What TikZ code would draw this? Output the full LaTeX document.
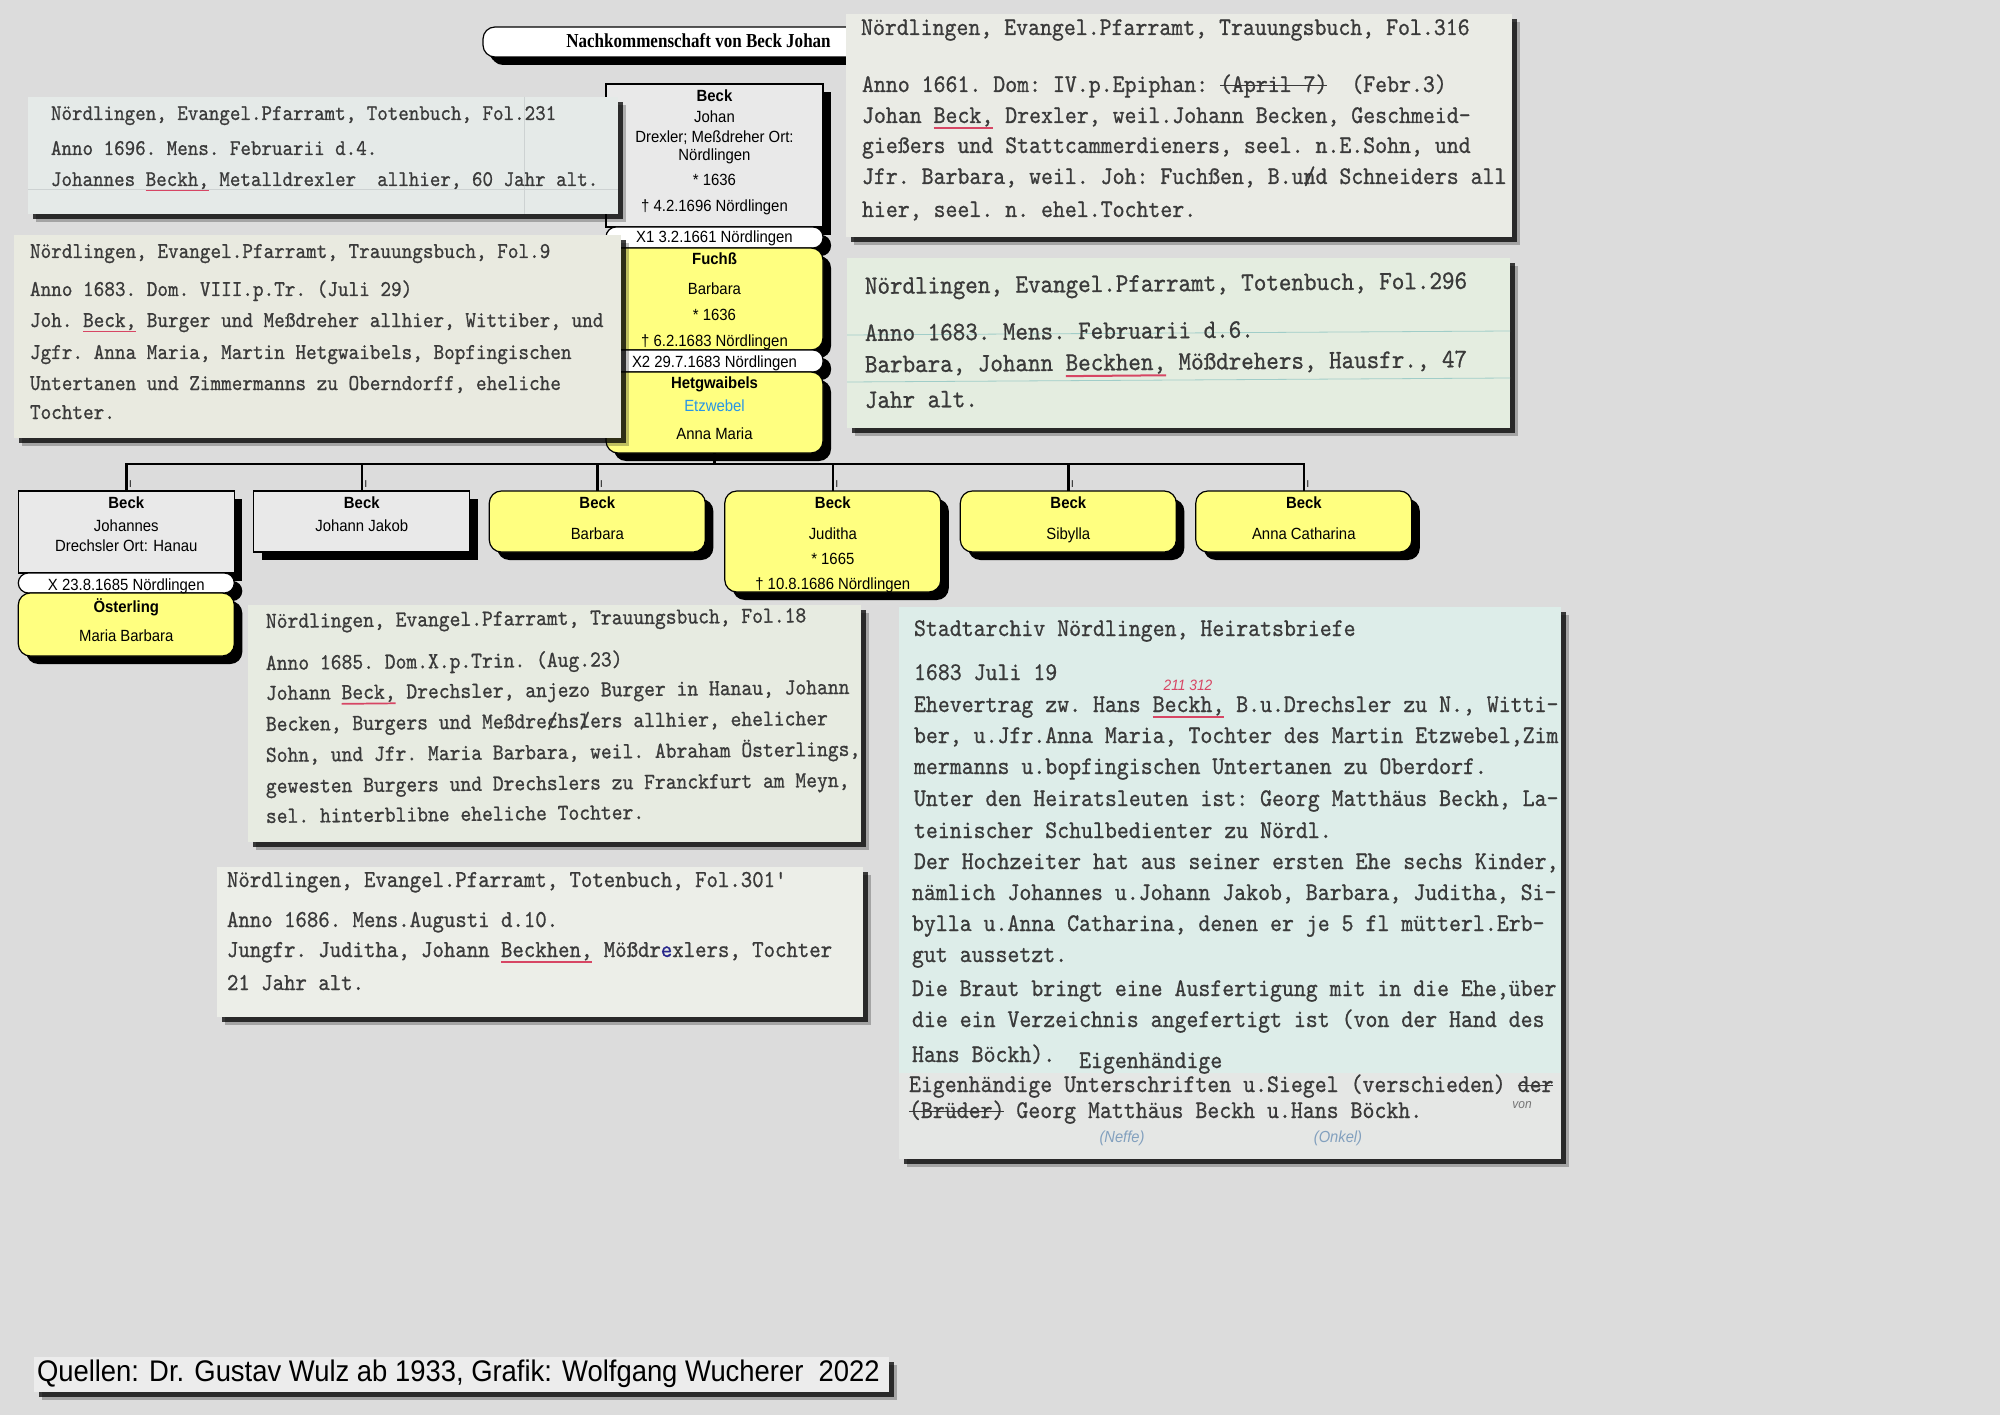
\documentclass[tikz,border=0pt]{standalone}
\usepackage{fontspec}
\usepackage{graphicx}
\usetikzlibrary{shadows}
\newfontfamily\treefont[FakeStretch=0.92]{Liberation Sans}
\newfontfamily\titlefont[FakeStretch=0.86]{Liberation Serif}
\newfontfamily\twfont{lmmono10-regular.otf}[FakeBold=0.8]
\definecolor{bg}{RGB}{220,220,220}
\definecolor{graybox}{RGB}{233,233,233}
\definecolor{yel}{RGB}{255,255,128}
\definecolor{etzblue}{RGB}{40,150,230}
\definecolor{ink}{RGB}{58,58,58}
\definecolor{inkblue}{RGB}{40,40,140}
\definecolor{ulred}{RGB}{215,70,100}
\definecolor{hwblue}{RGB}{130,160,190}
\definecolor{cA}{RGB}{229,234,232}
\definecolor{cB}{RGB}{233,234,224}
\definecolor{cC}{RGB}{234,235,229}
\definecolor{cD}{RGB}{228,237,224}
\definecolor{cE}{RGB}{231,235,225}
\definecolor{cF}{RGB}{236,238,232}
\definecolor{cG}{RGB}{221,237,233}
\definecolor{cGs}{RGB}{229,231,229}
\definecolor{footbg}{RGB}{236,236,236}
\definecolor{faint}{RGB}{205,210,210}
\definecolor{teal2}{RGB}{160,205,200}
\newcommand\tw[1]{\scalebox{0.895}[1]{#1}}
\newcommand\rul[1]{\setbox0\hbox{#1}\rlap{\textcolor{ulred}{\rule[-0.24em]{\wd0}{0.075em}}}\box0\relax}
\newcommand\stk[1]{\setbox0\hbox{#1}\rlap{\rule[0.22em]{\wd0}{0.05em}}\box0\relax}
\newcommand\ovsl[1]{\rlap{/}#1}
\tikzset{
 tbox/.style={draw=black, line width=1.2pt, anchor=north west,
   drop shadow={shadow xshift=8pt, shadow yshift=-8pt, fill=black, opacity=1}},
 gbox/.style={tbox, fill=graybox},
 ybox/.style={tbox, fill=yel, rounded corners=12pt},
 pillbox/.style={tbox, fill=white, rounded corners=10pt},
 conn/.style={draw=black, line width=2.6pt},
 tt/.style={anchor=base, font=\treefont\fontsize{16.2}{18}\selectfont},
 ttb/.style={anchor=base, font=\treefont\bfseries\fontsize{16.2}{18}\selectfont},
 tick/.style={anchor=base, font=\treefont\fontsize{10}{10}\selectfont},
 card/.style={anchor=north west,
   drop shadow={shadow xshift=8pt, shadow yshift=-8pt, fill=black, opacity=0.25},
   drop shadow={shadow xshift=5pt, shadow yshift=-5pt, fill=black, opacity=0.75}},
 tl/.style={anchor=base west, text=ink, font=\twfont\frenchspacing\fontsize{#1}{#1}\selectfont},
 hw/.style={anchor=base, font=\treefont\itshape\fontsize{#1}{#1}\selectfont},
}
\begin{document}
\begin{tikzpicture}[x=1pt,y=-1pt, every node/.style={inner sep=0pt, outer sep=0pt}]
\path[use as bounding box, fill=bg] (0,0) rectangle (2000,1415);

% ---------- title ----------
\node[tbox, fill=white, rounded corners=12pt, minimum width=400pt, minimum height=30pt,
  drop shadow={shadow xshift=6pt, shadow yshift=-6pt, fill=black, opacity=1}] (titlebox) at (483,27) {};
\node[anchor=base, font=\titlefont\bfseries\fontsize{19.8}{20}\selectfont] (title) at (698.5,48) {Nachkommenschaft von Beck Johan};

% ---------- tree connectors ----------
\coordinate (bus) at (0,464);

% ---------- root column ----------
\node[gbox, minimum width=217pt, minimum height=143pt] (root) at (606,84) {};
\node[pillbox, minimum width=217pt, minimum height=21pt] (x1) at (606,227) {};
\node[ybox, minimum width=217pt, minimum height=102pt] (fuchs) at (606,248) {};
\node[pillbox, minimum width=217pt, minimum height=22pt] (x2) at (606,350) {};
\node[ybox, minimum width=217pt, minimum height=81pt] (hetg) at (606,372) {};

% ---------- children ----------
\node[gbox, minimum width=216pt, minimum height=82pt] (c1) at (18.3,491) {};
\node[pillbox, minimum width=216pt, minimum height=20pt] (c1x) at (18.3,573) {};
\node[ybox, minimum width=216pt, minimum height=63pt] (c1w) at (18.3,593) {};
\node[gbox, minimum width=216pt, minimum height=61pt] (c2) at (253.8,491) {};
\node[ybox, minimum width=216pt, minimum height=61pt] (c3) at (489.3,491) {};
\node[ybox, minimum width=216pt, minimum height=101pt] (c4) at (724.8,491) {};
\node[ybox, minimum width=216pt, minimum height=61pt] (c5) at (960.3,491) {};
\node[ybox, minimum width=216pt, minimum height=61pt] (c6) at (1195.8,491) {};

\draw[conn] (hetg.south) -- (hetg.south |- bus);
\draw[conn] (c1.north) -- (c1.north |- bus) -- (c6.north |- bus) -- (c6.north);
\draw[conn] (c2.north) -- (c2.north |- bus);
\draw[conn] (c3.north) -- (c3.north |- bus);
\draw[conn] (c4.north) -- (c4.north |- bus);
\draw[conn] (c5.north) -- (c5.north |- bus);

\node[tick] (k1) at (130.3,487) {I};
\node[tick] (k2) at (365.8,487) {I};
\node[tick] (k3) at (601.3,487) {I};
\node[tick] (k4) at (836.8,487) {I};
\node[tick] (k5) at (1072.3,487) {I};
\node[tick] (k6) at (1307.8,487) {I};

% root texts
\node[ttb] (rB) at (714.5,102) {Beck};
\node[tt] (rJ) at (714.5,123) {Johan};
\node[tt] (rO) at (714.5,143) {Drexler; Meßdreher Ort:};
\node[tt] (rN) at (714.5,161) {Nördlingen};
\node[tt] (rG) at (714.5,186) {* 1636};
\node[tt] (rD) at (714.5,212) {† 4.2.1696 Nördlingen};
\node[tt] (x1t) at (714.5,243) {X1 3.2.1661 Nördlingen};
\node[ttb] (fB) at (714.5,265) {Fuchß};
\node[tt] (fV) at (714.5,295) {Barbara};
\node[tt] (fG) at (714.5,321) {* 1636};
\node[tt] (fD) at (714.5,346) {† 6.2.1683 Nördlingen};
\node[tt] (x2t) at (714.5,367) {X2 29.7.1683 Nördlingen};
\node[ttb] (hB) at (714.5,388) {Hetgwaibels};
\node[tt, text=etzblue] (hE) at (714.5,411) {Etzwebel};
\node[tt] (hV) at (714.5,439) {Anna Maria};

% children texts
\node[ttb] (c1B) at (126.3,508) {Beck};
\node[tt] (c1V) at (126.3,531) {Johannes};
\node[tt] (c1O) at (126.3,551) {Drechsler Ort: Hanau};
\node[tt] (c1xt) at (126.3,590) {X 23.8.1685 Nördlingen};
\node[ttb] (c1wB) at (126.3,612) {Österling};
\node[tt] (c1wV) at (126.3,641) {Maria Barbara};
\node[ttb] (c2B) at (361.8,508) {Beck};
\node[tt] (c2V) at (361.8,531) {Johann Jakob};
\node[ttb] (c3B) at (597.3,508) {Beck};
\node[tt] (c3V) at (597.3,539) {Barbara};
\node[ttb] (c4B) at (832.8,508) {Beck};
\node[tt] (c4V) at (832.8,539) {Juditha};
\node[tt] (c4G) at (832.8,564) {* 1665};
\node[tt] (c4D) at (832.8,589) {† 10.8.1686 Nördlingen};
\node[ttb] (c5B) at (1068.3,508) {Beck};
\node[tt] (c5V) at (1068.3,539) {Sibylla};
\node[ttb] (c6B) at (1303.8,508) {Beck};
\node[tt] (c6V) at (1303.8,539) {Anna Catharina};

% ---------- card A ----------
\node[card, fill=cA, minimum width=590pt, minimum height=117pt] (cardA) at (28,97) {};
\draw[faint, line width=0.8pt] (524,97) -- (524,214);
\draw[faint, line width=0.8pt] (28,189) -- (618,189);
\node[tl=22.4] (a1) at (51,120) {\tw{Nördlingen, Evangel.Pfarramt, Totenbuch, Fol.231}};
\node[tl=22.4] (a2) at (51,155) {\tw{Anno 1696. Mens. Februarii d.4.}};
\node[tl=22.4] (a3) at (51,186) {\tw{Johannes \rul{Beckh,} Metalldrexler~ allhier, 60 Jahr alt.}};

% ---------- card B ----------
\node[card, fill=cB, minimum width=607pt, minimum height=203pt] (cardB) at (14,235) {};
\node[tl=22.6] (b1) at (30,258) {\tw{Nördlingen, Evangel.Pfarramt, Trauungsbuch, Fol.9}};
\node[tl=22.6] (b2) at (30,296) {\tw{Anno 1683. Dom. VIII.p.Tr. (Juli 29)}};
\node[tl=22.6] (b3) at (30,327) {\tw{Joh. \rul{Beck,} Burger und Meßdreher allhier, Wittiber, und}};
\node[tl=22.6] (b4) at (30,359) {\tw{Jgfr. Anna Maria, Martin Hetgwaibels, Bopfingischen}};
\node[tl=22.6] (b5) at (30,390) {\tw{Untertanen und Zimmermanns zu Oberndorff, eheliche}};
\node[tl=22.6] (b6) at (30,419) {\tw{Tochter.}};

% ---------- card C ----------
\node[card, fill=cC, minimum width=666pt, minimum height=223pt] (cardC) at (846,14) {};
\node[tl=25.4] (cc1) at (861,35) {\tw{Nördlingen, Evangel.Pfarramt, Trauungsbuch, Fol.316}};
\node[tl=25.4] (cc2) at (862,92) {\tw{Anno 1661. Dom: IV.p.Epiphan: \stk{(April 7)}~ (Febr.3)}};
\node[tl=25.4] (cc3) at (862,123) {\tw{Johan \rul{Beck,} Drexler, weil.Johann Becken, Geschmeid-}};
\node[tl=25.4] (cc4) at (862,153) {\tw{gießers und Stattcammerdieners, seel. n.E.Sohn, und}};
\node[tl=25.4] (cc5) at (862,184) {\tw{Jfr. Barbara, weil. Joh: Fuchßen, B.u\ovsl{n}d Schneiders all}};
\node[tl=25.4] (cc6) at (862,217) {\tw{hier, seel. n. ehel.Tochter.}};

% ---------- card D ----------
\node[card, fill=cD, minimum width=663pt, minimum height=170pt] (cardD) at (847,258) {};
\draw[teal2, line width=0.8pt] (847,335) -- (1510,331);
\draw[teal2, line width=0.8pt] (847,382) -- (1510,378);
\node[tl=26.7, rotate=0.5] (d1) at (865,294) {\tw{Nördlingen, Evangel.Pfarramt, Totenbuch, Fol.296}};
\node[tl=26.7, rotate=0.5] (d2) at (865,341) {\tw{Anno 1683. Mens. Februarii d.6.}};
\node[tl=26.7, rotate=0.5] (d3) at (865,372.5) {\tw{Barbara, Johann \rul{Beckhen,} Mößdrehers, Hausfr., 47}};
\node[tl=26.7, rotate=0.5] (d4) at (865,408) {\tw{Jahr alt.}};

% ---------- card E ----------
\node[card, fill=cE, minimum width=613pt, minimum height=237pt] (cardE) at (248,605) {};
\node[tl=23.0, rotate=0.6] (e1) at (266,628) {\tw{Nördlingen, Evangel.Pfarramt, Trauungsbuch, Fol.18}};
\node[tl=23.0, rotate=0.6] (e2) at (266,670) {\tw{Anno 1685. Dom.X.p.Trin. (Aug.23)}};
\node[tl=23.0, rotate=0.6] (e3) at (266,700) {\tw{Johann \rul{Beck,} Drechsler, anjezo Burger in Hanau, Johann}};
\node[tl=23.0, rotate=0.6] (e4) at (266,731) {\tw{Becken, Burgers und Meßdre\ovsl{c}hs\ovsl{l}ers allhier, ehelicher}};
\node[tl=23.0, rotate=0.6] (e5) at (266,762) {\tw{Sohn, und Jfr. Maria Barbara, weil. Abraham Österlings,}};
\node[tl=23.0, rotate=0.6] (e6) at (266,793) {\tw{gewesten Burgers und Drechslers zu Franckfurt am Meyn,}};
\node[tl=23.0, rotate=0.6] (e7) at (266,823) {\tw{sel. hinterblibne eheliche Tochter.}};

% ---------- card F ----------
\node[card, fill=cF, minimum width=646pt, minimum height=150pt] (cardF) at (217,867) {};
\node[tl=24.3] (f1) at (227,887) {\tw{Nördlingen, Evangel.Pfarramt, Totenbuch, Fol.301'}};
\node[tl=24.3] (f2) at (227,927) {\tw{Anno 1686. Mens.Augusti d.10.}};
\node[tl=24.3] (f3) at (227,957) {\tw{Jungfr. Juditha, Johann \rul{Beckhen,} Mößdr{\color{inkblue}e}xlers, Tochter}};
\node[tl=24.3] (f4) at (227,990) {\tw{21 Jahr alt.}};

% ---------- card G ----------
\node[card, fill=cG, minimum width=662pt, minimum height=552pt] (cardG) at (899,607) {};
\fill[cGs] (899,1073) rectangle (1561,1159);
\node[tl=25.4] (g1) at (914,636) {\tw{Stadtarchiv Nördlingen, Heiratsbriefe}};
\node[tl=25.4] (g2) at (914,680) {\tw{1683 Juli 19}};
\node[tl=25.4] (g3) at (914,712) {\tw{Ehevertrag zw. Hans \rul{Beckh,} B.u.Drechsler zu N., Witti-}};
\node[tl=25.4] (g4) at (914,743) {\tw{ber, u.Jfr.Anna Maria, Tochter des Martin Etzwebel,Zim}};
\node[tl=25.4] (g5) at (914,774) {\tw{mermanns u.bopfingischen Untertanen zu Oberdorf.}};
\node[tl=25.4] (g6) at (914,806) {\tw{Unter den Heiratsleuten ist: Georg Matthäus Beckh, La-}};
\node[tl=25.4] (g7) at (914,838) {\tw{teinischer Schulbedienter zu Nördl.}};
\node[tl=25.4] (g8) at (914,869) {\tw{Der Hochzeiter hat aus seiner ersten Ehe sechs Kinder,}};
\node[tl=25.4] (g9) at (912,900) {\tw{nämlich Johannes u.Johann Jakob, Barbara, Juditha, Si-}};
\node[tl=25.4] (g10) at (912,931) {\tw{bylla u.Anna Catharina, denen er je 5 fl mütterl.Erb-}};
\node[tl=25.4] (g11) at (912,962) {\tw{gut aussetzt.}};
\node[tl=25.4] (g12) at (912,996) {\tw{Die Braut bringt eine Ausfertigung mit in die Ehe,über}};
\node[tl=25.4] (g13) at (912,1027) {\tw{die ein Verzeichnis angefertigt ist (von der Hand des}};
\node[tl=25.4] (g14) at (912,1062) {\tw{Hans Böckh).~ \raisebox{-6pt}{Eigenhändige}}};
\node[tl=25.4] (g15) at (909,1092) {\tw{Eigenhändige Unterschriften u.Siegel (verschieden) \stk{der}}};
\node[tl=25.4] (g16) at (909,1118) {\tw{\stk{(Brüder)} Georg Matthäus Beckh u.Hans Böckh.}};
\node[hw=15, text=ulred] (hw1) at (1188,690) {211 312};
\node[hw=13, text=ink!70] (hw2) at (1522,1108) {von};
\node[hw=16, text=hwblue] (hw3) at (1122,1142) {(Neffe)};
\node[hw=16, text=hwblue] (hw4) at (1338,1142) {(Onkel)};

% ---------- footer ----------
\node[card, fill=footbg, minimum width=855pt, minimum height=35pt] (foot) at (34,1357) {};
\node[anchor=base west, font=\treefont\fontsize{29.8}{30}\selectfont] (footT) at (37,1381) {Quellen: Dr. Gustav Wulz ab 1933, Grafik: Wolfgang Wucherer~ 2022};
\end{tikzpicture}
\end{document}
